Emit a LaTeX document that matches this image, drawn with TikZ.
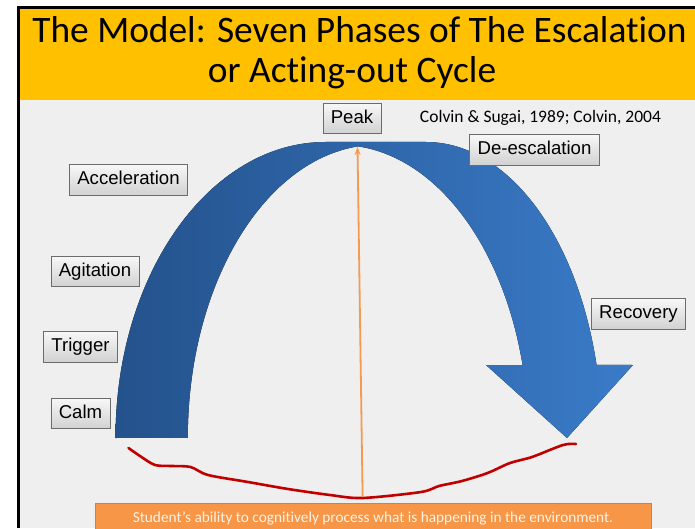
\documentclass[tikz,border=0pt]{standalone}
\usepackage{fontspec}
\setmainfont{Carlito}[Ligatures=NoCommon, Contextuals=NoAlternate]
\newfontfamily\arialfont{Liberation Sans}
\usetikzlibrary{arrows.meta}

\definecolor{titlegold}{HTML}{FFC000}
\definecolor{slidegray}{HTML}{EFEFEF}
\definecolor{bandlight}{HTML}{3A7BC8}
\definecolor{banddark}{HTML}{24528C}
\definecolor{wavered}{HTML}{C00000}
\definecolor{peakorange}{HTML}{F59B50}
\definecolor{notebox}{HTML}{F79646}

\tikzset{
  phase/.style={draw=gray!85!black, line width=0.8pt, top color=white!97!black, bottom color=black!18,
    font=\arialfont\fontsize{18.6}{20}\selectfont, inner xsep=7.8pt, minimum height=30.5pt,
    text height=13.4pt, text depth=3.9pt},
  titletext/.style={anchor=base, font=\fontsize{37.4}{40}\selectfont}
}

\begin{document}
\begin{tikzpicture}[x=1pt,y=1pt]
			\useasboundingbox (0,0) rectangle (695,528);
			\fill[white] (0,0) rectangle (695,528);
			
			% slide and title band
			\fill[slidegray] (18,0) rectangle (695,428);
			\fill[titlegold] (18,428) rectangle (695,520.5);
			\draw[line width=3.5pt] (18.5,0) -- (18.5,520.5) -- (695,520.5);
			
			\node[titletext] (title1) at (359.5,485) {The Model: Seven Phases of The Escalation};
			\node[titletext] (title2) at (352,445) {or Acting-out Cycle};
			
			\node[font=\fontsize{17.5}{19}\selectfont] (cite) at (540.5,410) {Colvin \& Sugai, 1989; Colvin, 2004};
			
			% curved arrow
			\fill[left color=banddark, right color=bandlight]
			(115.5,90) arc[start angle=180, end angle=90, x radius=210pt, y radius=296pt]
			-- (426,386) arc[start angle=90, end angle=14.3, x radius=176pt, y radius=296pt]
			-- (633,163) -- (567,90) -- (486,163) -- (522.6,163)
			arc[start angle=14.43, end angle=84.5, x radius=188.7pt, y radius=293pt]
			arc[start angle=96, end angle=180, x radius=190pt, y radius=293pt]
			-- cycle;
			
			% ability curve
			\draw[wavered, line width=2.6pt, line cap=round] plot[smooth, tension=0.5] coordinates {(128.5,80) (140,72) (155,63) (172,62) (190.6,61) (208,53) (248,46) (288,39) (330,33) (362.6,30) (421,36) (439,42) (462,47) (487.6,55) (510,65) (532,71) (563,83) (576,84)};
			
			\coordinate (trough) at (362.6,31);
			\coordinate (summit) at (357.5,381);
			\draw[peakorange, line width=1.8pt, -{Stealth[length=8pt,width=6pt]}] (trough) -- (summit);
			
			\node[anchor=north, fill=notebox, draw=notebox!85!black, minimum width=556pt, minimum height=30pt,
			text=white!90!orange, font=\fontsize{15.3}{17}\selectfont] (ability) at (373,25)
			{Student’s ability to cognitively process what is happening in the environment.};
			
			% phase boxes
			\node[phase] (peak) at (352,409.5) {Peak};
			\node[phase] (deesc) at (534.5,378) {De-escalation};
			\node[phase] (accel) at (128.5,348) {Acceleration};
			\node[phase] (agit) at (95,256.5) {Agitation};
			\node[phase] (trig) at (80.5,181) {Trigger};
			\node[phase] (calm) at (80.5,114.5) {Calm};
			\node[phase] (recov) at (638.5,214) {Recovery};
\end{tikzpicture}
\end{document}
